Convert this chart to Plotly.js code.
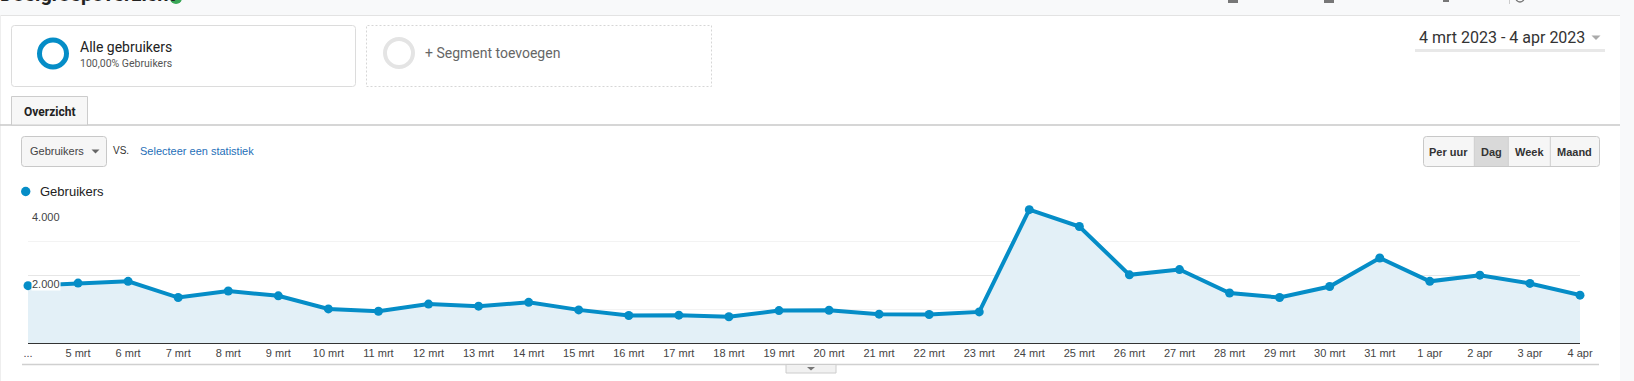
<!DOCTYPE html>
<html><head><meta charset="utf-8">
<script src="https://cdn.plot.ly/plotly-3.0.1.min.js"></script>
<style>html,body{margin:0;padding:0;background:#fff;overflow:hidden}#chart{width:1634px;height:381px}</style>
</head><body><div id="chart"></div>
<script>
// ---- data ----
const dates = ['4 mrt','5 mrt','6 mrt','7 mrt','8 mrt','9 mrt','10 mrt','11 mrt','12 mrt','13 mrt','14 mrt','15 mrt','16 mrt','17 mrt','18 mrt','19 mrt','20 mrt','21 mrt','22 mrt','23 mrt','24 mrt','25 mrt','26 mrt','27 mrt','28 mrt','29 mrt','30 mrt','31 mrt','1 apr','2 apr','3 apr','4 apr'];
const tickLabels = ['...','5 mrt','6 mrt','7 mrt','8 mrt','9 mrt','10 mrt','11 mrt','12 mrt','13 mrt','14 mrt','15 mrt','16 mrt','17 mrt','18 mrt','19 mrt','20 mrt','21 mrt','22 mrt','23 mrt','24 mrt','25 mrt','26 mrt','27 mrt','28 mrt','29 mrt','30 mrt','31 mrt','1 apr','2 apr','3 apr','4 apr'];
const users = [1700,1776,1827,1347,1541,1398,1010,942,1153,1092,1204,981,816,825,777,961,971,854,845,922,3951,3451,2020,2176,1480,1347,1673,2520,1827,2010,1765,1418];
const seriesName = 'Gebruikers';
const yTickVals = [2000, 4000];
const yTickText = ['2.000', '4.000'];
const pageTitle = 'Doelgroepoverzicht';
const segmentName = 'Alle gebruikers';
const segmentShare = '100,00% Gebruikers';
const addSegment = '+ Segment toevoegen';
const dateRange = '4 mrt 2023 - 4 apr 2023';
const tabLabel = 'Overzicht';
const metricLabel = 'Gebruikers';
const vsLabel = 'VS.';
const compareLabel = 'Selecteer een statistiek';
const intervalButtons = ['Per uur', 'Dag', 'Week', 'Maand'];

// ---- pixel -> paper helpers ----
const L = 28, R = 1580, T = 208, B = 343;
const X = p => (p - L) / (R - L);
const Y = p => (B - p) / (B - T);
const pt = (x, y) => X(x) + ',' + Y(y);

const shapes = [];
const ann = [];
function rect(x0, y0, x1, y1, fill, lc, lw, dash) {
  shapes.push({type:'rect', xref:'paper', yref:'paper', x0:X(x0), x1:X(x1), y0:Y(y1), y1:Y(y0),
    fillcolor: fill || 'rgba(0,0,0,0)', line:{color: lc || 'rgba(0,0,0,0)', width: lw || 0, dash: dash || 'solid'}});
}
function rrect(x0, y0, x1, y1, r, fill, lc, lw) {
  const d = 'M' + pt(x0 + r, y0) + ' L' + pt(x1 - r, y0) + ' Q' + pt(x1, y0) + ' ' + pt(x1, y0 + r) +
    ' L' + pt(x1, y1 - r) + ' Q' + pt(x1, y1) + ' ' + pt(x1 - r, y1) + ' L' + pt(x0 + r, y1) +
    ' Q' + pt(x0, y1) + ' ' + pt(x0, y1 - r) + ' L' + pt(x0, y0 + r) + ' Q' + pt(x0, y0) + ' ' + pt(x0 + r, y0) + ' Z';
  shapes.push({type:'path', xref:'paper', yref:'paper', path:d, fillcolor: fill, line:{color: lc, width: lw}});
}
function line(x0, y0, x1, y1, c, w) {
  shapes.push({type:'line', xref:'paper', yref:'paper', x0:X(x0), x1:X(x1), y0:Y(y0), y1:Y(y1), line:{color:c, width:w}});
}
function circle(cx, cy, r, fill, lc, lw) {
  shapes.push({type:'circle', xref:'paper', yref:'paper', x0:X(cx - r), x1:X(cx + r), y0:Y(cy + r), y1:Y(cy - r),
    fillcolor: fill || 'rgba(0,0,0,0)', line:{color: lc || 'rgba(0,0,0,0)', width: lw || 0}});
}
function tri(ax, ay, bx, by, cx, cy, fill) {
  shapes.push({type:'path', xref:'paper', yref:'paper', path:'M' + pt(ax, ay) + ' L' + pt(bx, by) + ' L' + pt(cx, cy) + ' Z',
    fillcolor: fill, line:{width:0}});
}
function text(x, y, s, size, color, family, weight, xa, ya) {
  ann.push({xref:'paper', yref:'paper', x:X(x), y:Y(y), text:s, showarrow:false, borderpad:0,
    xanchor: xa || 'left', yanchor: ya || 'middle',
    font:{size:size, color:color, family:family, weight: weight || 'normal'}});
}
const ROBOTO = 'Roboto, "Liberation Sans", Arial, sans-serif';
const ARIAL = '"Liberation Sans", Arial, sans-serif';

// header band
rect(-2, -2, 1640, 15, '#f8f9fa');
line(0, 15.5, 1620, 15.5, '#e3e3e3', 1);
rect(1620, 15, 1640, 390, '#f8f9fa');
line(0.5, 15, 0.5, 381, '#eeeeee', 1);
text(-1, 7, pageTitle, 20, '#222', ROBOTO, 'bold', 'left', 'bottom');
circle(176, -2, 6, '#3aa757');
rect(1228, -2, 1238, 3, '#777');
rect(1324, -2, 1334, 3, '#777');
rect(1443, -2, 1449, 2, '#777');
line(1509.5, 0, 1509.5, 4, '#cccccc', 1);
circle(1520, -2, 4, null, '#777', 1.5);

// segment cards
rrect(11.5, 25.5, 355.5, 86.5, 3, '#ffffff', '#dcdcdc', 1);
rect(366.5, 25.5, 711.5, 86.5, null, '#d6d6d6', 1, '2px,2px');
circle(53, 53.5, 13.5, null, '#058dc7', 5);
circle(399, 53, 14, null, '#e4e4e4', 4);
text(78.5, 46.5, segmentName, 14, '#222', ROBOTO);
text(78.5, 63, segmentShare, 10.5, '#555', ROBOTO);
text(423.5, 52.5, addSegment, 14, '#666', ROBOTO);

// date range
text(1418, 37.5, dateRange, 16, '#333', ROBOTO);
tri(1591.5, 35.5, 1600.5, 35.5, 1596, 40, '#aaaaaa');
line(1415, 50.5, 1605, 50.5, '#e8e8e8', 3);

// tab
line(0, 125, 1620, 125, '#c8c8c8', 1.5);
rect(11.5, 96.5, 87.5, 125, '#f7f7f7', '#cccccc', 1);
text(49.5, 111.5, tabLabel, 12, '#222', ROBOTO, 'bold', 'center');

// metric selector
rrect(21.5, 136.5, 106.5, 166.5, 3, '#f6f6f6', '#c8c8c8', 1);
text(29, 151, metricLabel, 11, '#444', ARIAL);
tri(91.5, 149.5, 99.5, 149.5, 95.5, 153.5, '#666');
text(111.5, 150, vsLabel, 10, '#333', ARIAL);
text(138.5, 151, compareLabel, 11, '#1f6fb8', ARIAL);

// interval buttons
const btnEdges = [1423.5, 1474.3, 1508.3, 1550.3, 1599.5];
rrect(1423.5, 136.5, 1599.5, 166.5, 3, '#f6f6f6', '#c8c8c8', 1);
rect(btnEdges[1], 137, btnEdges[2], 166, '#d9d9d9');
for (let i = 1; i < 4; i++) line(btnEdges[i], 137, btnEdges[i], 166, '#cfcfcf', 1);
intervalButtons.forEach((b, i) => text((btnEdges[i] + btnEdges[i + 1]) / 2, 151.5, b, 11, '#333', ARIAL, 'bold', 'center'));

// legend
circle(25.7, 191.5, 4.7, '#058dc7');
text(39, 191.5, seriesName, 13, '#222', ARIAL);

// bottom rule + toggle
line(22, 364.5, 1599, 364.5, '#d0d0d0', 1.5);
rect(786, 364.5, 836, 373, '#f1f1f1', '#cccccc', 1);
tri(807, 367, 815, 367, 811, 370.5, '#777');

// y tick labels (drawn inside plot, under gridline)
yTickVals.forEach((v, i) => ann.push({xref:'paper', yref:'y', x:X(31), y:v, yshift:-1.5, text:yTickText[i],
  showarrow:false, xanchor:'left', yanchor:'top', bgcolor:'#ffffff', borderpad:0,
  font:{size:11, color:'#444', family:ARIAL}}));

const trace = {
  type:'scatter', mode:'lines+markers', x:dates, y:users, name:seriesName,
  fill:'tozeroy', fillcolor:'#e3f0f7',
  line:{color:'#058dc7', width:4}, marker:{color:'#058dc7', size:9},
  cliponaxis:false, hoverinfo:'skip', showlegend:false
};

const layout = {
  width:1634, height:381,
  margin:{l:L, r:1634 - R, t:T, b:381 - B, pad:0},
  paper_bgcolor:'#ffffff', plot_bgcolor:'rgba(0,0,0,0)',
  font:{family:ARIAL, color:'#444'},
  showlegend:false,
  xaxis:{type:'category', range:[0, dates.length - 1], tickvals:dates, ticktext:tickLabels,
    tickfont:{size:11, color:'#444', family:ARIAL}, showgrid:false, zeroline:false,
    showline:true, linecolor:'#333', linewidth:1, ticks:'', fixedrange:true},
  yaxis:{range:[0, 4000], dtick:2000, tick0:0, showticklabels:false, ticks:'',
    showgrid:true, gridcolor:'#e6e6e6', gridwidth:1, zeroline:false, showline:false,
    minor:{dtick:1000, showgrid:true, gridcolor:'#f3f3f3', gridwidth:1}, fixedrange:true},
  shapes:shapes, annotations:ann
};
Plotly.newPlot('chart', [trace], layout, {displayModeBar:false, staticPlot:true});
</script></body></html>
